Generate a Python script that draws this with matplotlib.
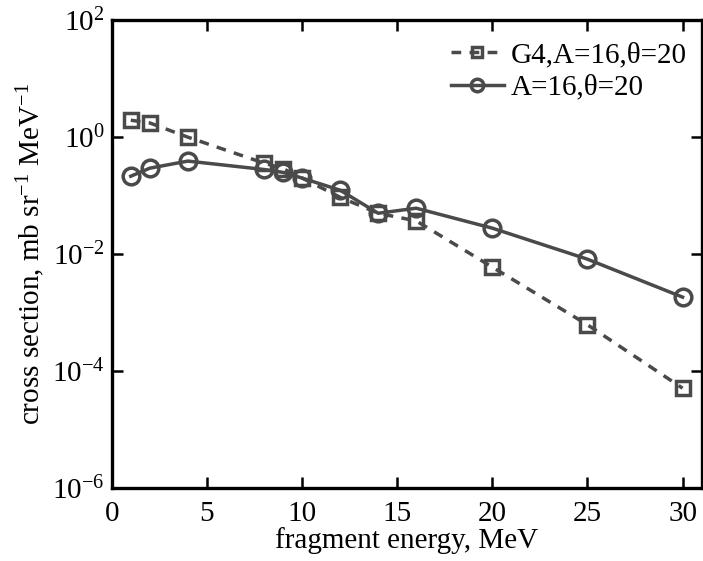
import matplotlib
matplotlib.use("Agg")
import matplotlib.pyplot as plt
from matplotlib.ticker import FixedLocator, LogFormatterSciNotation, NullLocator

plt.rcParams['font.family'] = ['Liberation Serif', 'DejaVu Serif']
plt.rcParams['mathtext.fontset'] = 'custom'
plt.rcParams['mathtext.rm'] = 'Liberation Serif'
plt.rcParams['mathtext.it'] = 'Liberation Serif:italic'
plt.rcParams['mathtext.default'] = 'regular'

energy = [1, 2, 4, 8, 9, 10, 12, 14, 16, 20, 25, 30]
g4_values = [1.95, 1.75, 1.0, 0.36, 0.29, 0.2, 0.094, 0.05, 0.037, 0.006, 0.00062, 0.000051]
exp_values = [0.215, 0.295, 0.39, 0.28, 0.25, 0.2, 0.124, 0.05, 0.061, 0.0278, 0.0082, 0.00184]
x_ticks = [0, 5, 10, 15, 20, 25, 30]
y_ticks = [1e-6, 1e-4, 1e-2, 1e0, 1e2]
labels = ["G4,A=16,θ=20", "A=16,θ=20"]

color = '#4a4a4a'
fig = plt.figure(figsize=(7.03, 5.61), dpi=100)
ax = fig.add_axes([0.159, 0.130, 0.839, 0.834])

ax.plot(energy, g4_values, linestyle=(0, (2.8, 2.4)), color=color, lw=2.5,
        marker='s', markersize=9.5, markerfacecolor='none', markeredgewidth=2.5,
        label=labels[0])
ax.plot(energy, exp_values, linestyle='-', color=color, lw=2.5,
        marker='o', markersize=12, markerfacecolor='none', markeredgewidth=2.5,
        label=labels[1])

ax.set_yscale('log')
ax.set_xlim(0, 31)
ax.set_ylim(1e-6, 1e2)
ax.xaxis.set_major_locator(FixedLocator(x_ticks))
ax.yaxis.set_major_locator(FixedLocator(y_ticks))
ax.yaxis.set_minor_locator(NullLocator())
ax.yaxis.set_major_formatter(LogFormatterSciNotation())
ax.tick_params(which='both', direction='in', top=True, right=True,
               length=8, width=1.8, labelsize=21)
ax.tick_params(axis='x', pad=9)
ax.tick_params(axis='y', pad=5)
for s in ax.spines.values():
    s.set_linewidth(2.4)

ax.set_xlabel('fragment energy, MeV', fontsize=21, labelpad=0)
ax.set_ylabel('cross section, mb sr$^{-1}$ MeV$^{-1}$', fontsize=21, labelpad=4)

leg = ax.legend(loc='upper right', bbox_to_anchor=(0.99, 0.972), frameon=False,
                fontsize=21, handlelength=1.8, handletextpad=0.25, borderaxespad=0,
                borderpad=0.3, labelspacing=0.2, markerscale=0.75)

fig.savefig('out.png', dpi=100)
